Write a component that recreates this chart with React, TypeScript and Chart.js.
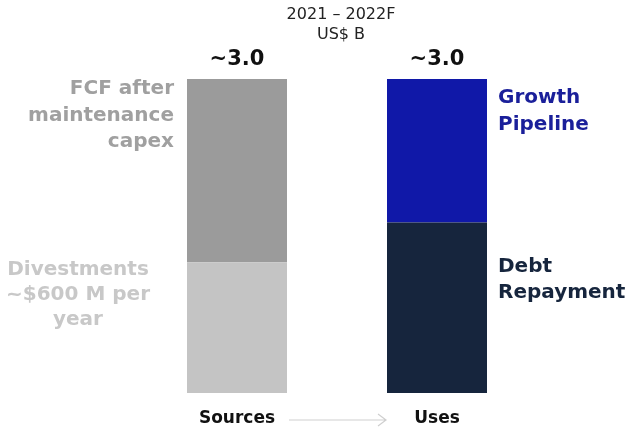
import React, { useEffect, useRef } from "react";
import { Chart, registerables } from "chart.js";

Chart.register(...registerables);

const categories = ["Sources", "Uses"];
const divestments = [1.25, null];
const fcf = [1.75, null];
const debtRepayment = [null, 1.63];
const growthPipeline = [null, 1.37];
const totalLabels = ["~3.0", "~3.0"];
const titleLines = ["2021 – 2022F", "US$ B"];

const FONT = "'DejaVu Sans', sans-serif";

const labelPlugin = {
  id: "customLabels",
  afterDatasetsDraw(chart: any) {
    const ctx = chart.ctx;
    const x = chart.scales.x;
    const y = chart.scales.y;
    const cx0 = x.getPixelForValue(0);
    const cx1 = x.getPixelForValue(1);
    const barW = 100;
    ctx.save();
    // title
    ctx.fillStyle = "#222";
    ctx.font = `16px ${FONT}`;
    ctx.textAlign = "center";
    ctx.textBaseline = "middle";
    const tc = (cx0 + cx1) / 2 + 4;
    ctx.fillText(titleLines[0], tc, 15);
    ctx.fillText(titleLines[1], tc, 35);
    // totals
    ctx.font = `bold 21px ${FONT}`;
    ctx.fillStyle = "#111";
    const t0 = (divestments[0] as number) + (fcf[0] as number);
    const t1 = (debtRepayment[1] as number) + (growthPipeline[1] as number);
    ctx.fillText(totalLabels[0], cx0, y.getPixelForValue(t0) - 19);
    ctx.fillText(totalLabels[1], cx1, y.getPixelForValue(t1) - 19);
    // category labels
    ctx.font = `bold 17px ${FONT}`;
    ctx.fillText(categories[0], cx0, chart.chartArea.bottom + 26);
    ctx.fillText(categories[1], cx1, chart.chartArea.bottom + 26);
    // arrow
    const ay = chart.chartArea.bottom + 27;
    const ax0 = cx0 + barW / 2 + 2;
    const ax1 = cx1 - barW / 2 - 1;
    ctx.strokeStyle = "#cfcfcf";
    ctx.lineWidth = 1.2;
    ctx.beginPath();
    ctx.moveTo(ax0, ay);
    ctx.lineTo(ax1, ay);
    ctx.moveTo(ax1 - 8, ay - 6);
    ctx.lineTo(ax1, ay);
    ctx.lineTo(ax1 - 8, ay + 6);
    ctx.stroke();
    // segment labels
    ctx.textBaseline = "alphabetic";
    ctx.font = `bold 20px ${FONT}`;
    const fcfTop = y.getPixelForValue(t0);
    ctx.fillStyle = "#a0a0a0";
    ctx.textAlign = "right";
    ["FCF after", "maintenance", "capex"].forEach((s, i) =>
      ctx.fillText(s, cx0 - barW / 2 - 13, fcfTop + 15 + i * 26.5)
    );
    const divTop = y.getPixelForValue(divestments[0] as number);
    ctx.fillStyle = "#c8c8c8";
    ctx.textAlign = "center";
    ["Divestments", "~$600 M per", "year"].forEach((s, i) =>
      ctx.fillText(s, 78, divTop + 13 + i * 25)
    );
    ctx.textAlign = "left";
    const gTop = y.getPixelForValue(t1);
    ctx.fillStyle = "#1a1f9a";
    ["Growth", "Pipeline"].forEach((s, i) =>
      ctx.fillText(s, cx1 + barW / 2 + 11, gTop + 24 + i * 27)
    );
    const dTop = y.getPixelForValue(debtRepayment[1] as number);
    ctx.fillStyle = "#16253d";
    ["Debt", "Repayment"].forEach((s, i) =>
      ctx.fillText(s, cx1 + barW / 2 + 11, dTop + 50 + i * 26)
    );
    ctx.restore();
  },
};

export default function App() {
  const ref = useRef<HTMLCanvasElement>(null);
  useEffect(() => {
    if (!ref.current) return;
    const chart = new Chart(ref.current, {
      type: "bar",
      data: {
        labels: categories,
        datasets: [
          { label: "Divestments", data: divestments, backgroundColor: "#c4c4c4" },
          { label: "FCF after maintenance capex", data: fcf, backgroundColor: "#9b9b9b" },
          { label: "Debt Repayment", data: debtRepayment, backgroundColor: "#16253d" },
          { label: "Growth Pipeline", data: growthPipeline, backgroundColor: "#1018a8" },
        ],
      },
      options: {
        animation: false,
        responsive: false,
        maintainAspectRatio: false,
        layout: { padding: { left: 137, right: 101, top: 79, bottom: 41 } },
        datasets: { bar: { barPercentage: 0.5, categoryPercentage: 1, borderWidth: 0 } },
        plugins: { legend: { display: false }, tooltip: { enabled: false }, title: { display: false } },
        scales: {
          x: { display: false, stacked: true },
          y: { display: false, stacked: true, min: 0, max: 3 },
        },
      },
      plugins: [labelPlugin],
    });
    return () => chart.destroy();
  }, []);
  return (
    <div style={{ position: "absolute", left: 0, top: 0, width: 638, height: 434, background: "#fff" }}>
      <canvas ref={ref} width={638} height={434} style={{ width: 638, height: 434 }} />
    </div>
  );
}
